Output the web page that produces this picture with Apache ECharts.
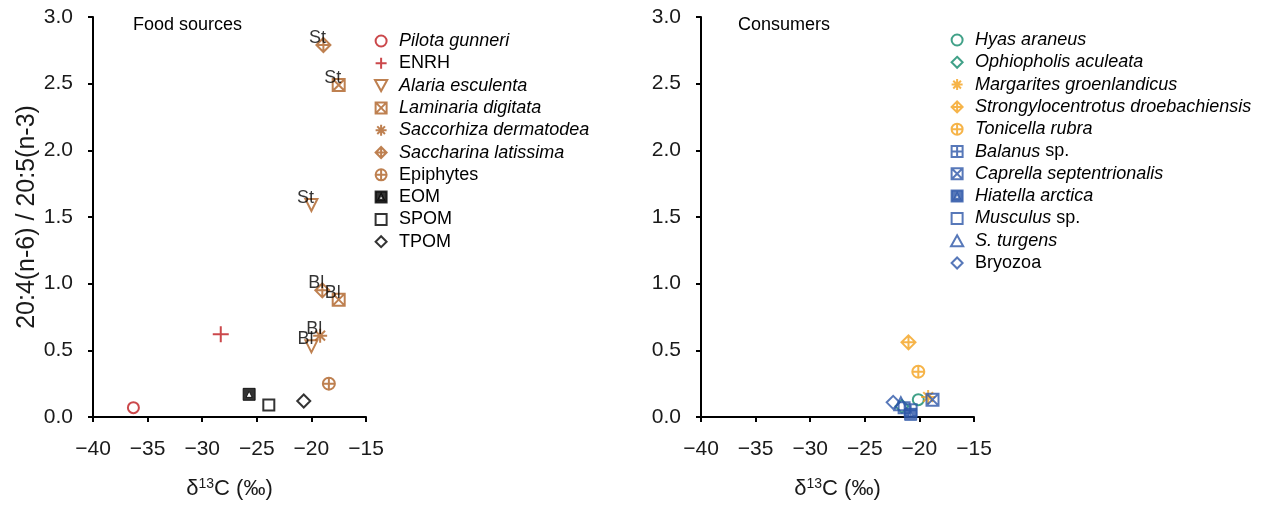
<!DOCTYPE html>
<html>
<head>
<meta charset="utf-8">
<script src="https://cdn.jsdelivr.net/npm/echarts@6/dist/echarts.min.js"></script>
<style>
html,body{margin:0;padding:0;background:#fff;}
#chart{width:1268px;height:505px;}
</style>
</head>
<body>
<div id="chart"></div>
<script>
// ---------- data ----------
const xTicks = [-40, -35, -30, -25, -20, -15];
const yTicks = [0, 0.5, 1.0, 1.5, 2.0, 2.5, 3.0];

// Food sources  [d13C, ratio]
const pilotaGunneri = [[-36.3, 0.07]];
const enrh = [[-28.3, 0.62]];
const alariaEsculenta = [[-20.0, 1.59], [-20.0, 0.53]];
const alariaSites = ['St', 'Bl'];
const laminariaDigitata = [[-17.5, 2.49], [-17.5, 0.88]];
const laminariaSites = ['St', 'Bl'];
const saccorhizaDermatodea = [[-19.2, 0.61]];
const saccorhizaSites = ['Bl'];
const saccharinaLatissima = [[-18.9, 2.79], [-19.0, 0.95]];
const saccharinaSites = ['St', 'Bl'];
const epiphytes = [[-18.4, 0.25]];
const eom = [[-25.7, 0.17]];
const spom = [[-23.9, 0.09]];
const tpom = [[-20.7, 0.12]];

// Consumers
const hyasAraneus = [[-20.1, 0.13]];
const ophiopholisAculeata = [[-21.6, 0.08]];
const margaritesGroenlandicus = [[-19.2, 0.15]];
const strongylocentrotusDroebachiensis = [[-21.0, 0.56]];
const tonicellaRubra = [[-20.1, 0.34]];
const balanusSp = [[-20.8, 0.05]];
const caprellaSeptentrionalis = [[-18.8, 0.13]];
const hiatellaArctica = [[-20.8, 0.02]];
const musculusSp = [[-21.4, 0.07]];
const sTurgens = [[-21.7, 0.10]];
const bryozoa = [[-22.4, 0.11]];

// ---------- styling ----------
const FONT = 'Liberation Sans, Arial, sans-serif';
const RED = '#BE1A1E', BROWN = '#AE6024', BLACK = '#000000',
      GREEN = '#12896A', ORANGE = '#F4A11C', BLUE = '#2D56A8';
const NOFILL = 'rgba(255,255,255,0)';

const SYM = {
  circle: 'circle',
  plus: 'path://M5,0L5,10M0,5L10,5',
  triDown: 'path://M0,0L10,0L5,9Z',
  triUp: 'path://M5,0L10,9L0,9Z',
  sqX: 'path://M0,0L10,0L10,10L0,10ZM0,0L10,10M10,0L0,10',
  sqPlus: 'path://M0,0L10,0L10,10L0,10ZM5,0L5,10M0,5L10,5',
  aster: 'path://M5,0L5,10M0,5L10,5M1.5,1.5L8.5,8.5M8.5,1.5L1.5,8.5',
  diaPlus: 'path://M5,0L10,5L5,10L0,5ZM5,0L5,10M0,5L10,5',
  cirPlus: 'path://M0,5A5,5,0,1,1,10,5A5,5,0,1,1,0,5ZM5,0L5,10M0,5L10,5',
  sqTri: 'path://M0,0L10,0L10,10L0,10ZM5,2.5L2.5,7.5L7.5,7.5Z',
  square: 'path://M0,0L10,0L10,10L0,10Z',
  diamond: 'path://M5,0L10,5L5,10L0,5Z'
};

function mk(name, data, grid, sym, color, opts) {
  opts = opts || {};
  const s = {
    name: name,
    type: 'scatter',
    xAxisIndex: grid, yAxisIndex: grid,
    data: data,
    symbol: sym,
    symbolSize: opts.size || 12,
    clip: false,
    itemStyle: {
      color: opts.filled ? color : NOFILL,
      borderColor: color,
      borderWidth: opts.bw || 2
    },
    emphasis: { disabled: true },
    z: opts.z || 2
  };
  if (opts.sites) {
    const sites = opts.sites;
    s.label = {
      show: true,
      position: 'inside',
      offset: [-6, -7],
      formatter: p => sites[p.dataIndex],
      color: '#000',
      fontFamily: FONT,
      fontSize: 18
    };
  }
  return s;
}

const series = [
  mk('Pilota gunneri', pilotaGunneri, 0, SYM.circle, RED, {size: 11}),
  mk('ENRH', enrh, 0, SYM.plus, RED, {size: 16}),
  mk('Alaria esculenta', alariaEsculenta, 0, SYM.triDown, BROWN, {sites: alariaSites}),
  mk('Laminaria digitata', laminariaDigitata, 0, SYM.sqX, BROWN, {sites: laminariaSites}),
  mk('Saccorhiza dermatodea', saccorhizaDermatodea, 0, SYM.aster, BROWN, {size: 14, sites: saccorhizaSites}),
  mk('Saccharina latissima', saccharinaLatissima, 0, SYM.diaPlus, BROWN, {size: 14, sites: saccharinaSites}),
  mk('Epiphytes', epiphytes, 0, SYM.cirPlus, BROWN, {size: 12}),
  mk('EOM', eom, 0, SYM.sqTri, BLACK, {filled: true, bw: 1, size: 12}),
  mk('SPOM', spom, 0, SYM.square, BLACK, {size: 11}),
  mk('TPOM', tpom, 0, SYM.diamond, BLACK, {size: 13}),

  mk('Hyas araneus', hyasAraneus, 1, SYM.circle, GREEN, {size: 11}),
  mk('Ophiopholis aculeata', ophiopholisAculeata, 1, SYM.diamond, GREEN, {size: 13}),
  mk('Margarites groenlandicus', margaritesGroenlandicus, 1, SYM.aster, ORANGE, {size: 14}),
  mk('Strongylocentrotus droebachiensis', strongylocentrotusDroebachiensis, 1, SYM.diaPlus, ORANGE, {size: 14}),
  mk('Tonicella rubra', tonicellaRubra, 1, SYM.cirPlus, ORANGE, {size: 12}),
  mk('Balanus sp.', balanusSp, 1, SYM.sqPlus, BLUE, {size: 12}),
  mk('Caprella septentrionalis', caprellaSeptentrionalis, 1, SYM.sqX, BLUE, {size: 12}),
  mk('Hiatella arctica', hiatellaArctica, 1, SYM.sqTri, BLUE, {filled: true, bw: 1, size: 12}),
  mk('Musculus sp.', musculusSp, 1, SYM.square, BLUE, {size: 11}),
  mk('S. turgens', sTurgens, 1, SYM.triUp, BLUE, {size: 13}),
  mk('Bryozoa', bryozoa, 1, SYM.diamond, BLUE, {size: 13})
];

const leftNames = series.slice(0, 10).map(s => s.name);
const rightNames = series.slice(10).map(s => s.name);
const plainNames = ['ENRH', 'Epiphytes', 'EOM', 'SPOM', 'TPOM', 'Bryozoa'];

function legendFmt(name) {
  if (plainNames.indexOf(name) >= 0) return '{n|' + name + '}';
  if (/ sp\.$/.test(name)) return '{i|' + name.replace(/ sp\.$/, '') + '}{n| sp.}';
  return '{i|' + name + '}';
}
const legendText = {
  fontFamily: FONT, fontSize: 18, color: '#000', lineHeight: 18,
  rich: {
    i: {fontFamily: FONT, fontSize: 18, fontStyle: 'italic', color: '#000', lineHeight: 18},
    n: {fontFamily: FONT, fontSize: 18, color: '#000', lineHeight: 18}
  }
};
function mkLegend(names, left, top) {
  return {
    data: names, orient: 'vertical', left: left, top: top,
    itemWidth: 26, itemHeight: 11, itemGap: 4.3,
    formatter: legendFmt, textStyle: legendText,
    itemStyle: {borderWidth: 2},
    selectedMode: false
  };
}

const axisLine = {show: true, lineStyle: {color: '#000', width: 2}};
const axisTick = {show: true, inside: false, length: 5, lineStyle: {color: '#000', width: 2}};
const tickFont = {fontFamily: FONT, fontSize: 21, color: '#1a1a1a'};

function mkX(grid) {
  return {
    type: 'value', gridIndex: grid, min: xTicks[0], max: xTicks[xTicks.length - 1], interval: 5,
    offset: 7, axisLine: axisLine, axisTick: axisTick, splitLine: {show: false},
    axisLabel: Object.assign({margin: 15, formatter: v => (v < 0 ? '\u2212' : '') + Math.abs(v)}, tickFont),
    name: '{d|\u03b4}{s|13}{d|C (\u2030)}', nameLocation: 'middle', nameGap: 53,
    nameTextStyle: {
      rich: {
        d: {fontFamily: FONT, fontSize: 22, color: '#1a1a1a'},
        s: {fontFamily: FONT, fontSize: 14, color: '#1a1a1a', verticalAlign: 'top', padding: [0, 0, 10, 0]}
      }
    }
  };
}
function mkY(grid, withName) {
  const y = {
    type: 'value', gridIndex: grid, min: yTicks[0], max: yTicks[yTicks.length - 1], interval: 0.5,
    axisLine: axisLine, axisTick: axisTick, splitLine: {show: false},
    axisLabel: Object.assign({margin: 20, formatter: v => v.toFixed(1)}, tickFont)
  };
  if (withName) {
    y.name = '20:4(n-6) / 20:5(n-3)';
    y.nameLocation = 'middle';
    y.nameGap = 44;
    y.nameTextStyle = {fontFamily: FONT, fontSize: 25, color: '#1a1a1a'};
  }
  return y;
}

const chart = echarts.init(document.getElementById('chart'), null, {renderer: 'canvas'});
chart.setOption({
  animation: false,
  backgroundColor: '#fff',
  grid: [
    {left: 93, top: 17, width: 273, height: 400},
    {left: 701, top: 17, width: 273, height: 400}
  ],
  xAxis: [mkX(0), mkX(1)],
  yAxis: [mkY(0, true), mkY(1, false)],
  legend: [mkLegend(leftNames, 369, 27), mkLegend(rightNames, 945, 26)],
  graphic: [
    {type: 'text', left: 133, top: 16, style: {text: 'Food sources', fontFamily: FONT, fontSize: 18, fill: '#000'}},
    {type: 'text', left: 738, top: 16, style: {text: 'Consumers', fontFamily: FONT, fontSize: 18, fill: '#000'}}
  ],
  series: series
});
</script>
</body>
</html>
